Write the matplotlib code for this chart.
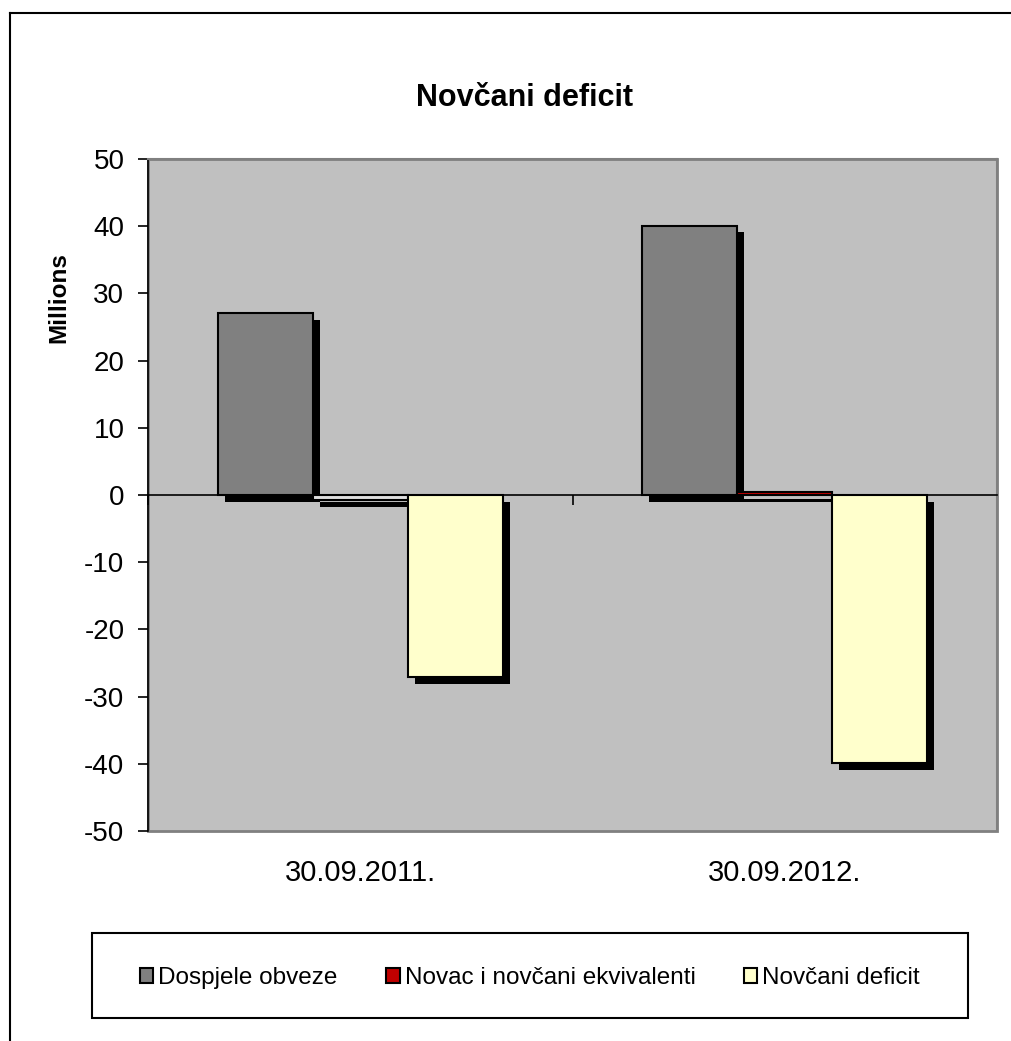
import matplotlib.pyplot as plt
import matplotlib.patheffects as pe
from matplotlib.patches import Rectangle, Patch
import numpy as np

plt.rcParams['font.family'] = ['Liberation Sans', 'DejaVu Sans']
plt.rcParams['axes.unicode_minus'] = False

# data (millions)
categories = ['30.09.2011.', '30.09.2012.']
series_names = ['Dospjele obveze', 'Novac i novčani ekvivalenti', 'Novčani deficit']
dospjele = [27.1, 40.1]
novac = [-0.7, 0.5]
deficit = [-27.1, -39.9]
colors = ['#808080', '#C00000', '#FFFFCC']

W, H = 1011, 1041
fig = plt.figure(figsize=(W / 100, H / 100), dpi=100)

# outer chart border (right and bottom are cut off in the original)
fig.add_artist(plt.Line2D([10 / W, 10 / W], [0, 1 - 13 / H], color='black', lw=1.5,
                          transform=fig.transFigure))
fig.add_artist(plt.Line2D([10 / W, 1], [1 - 13 / H, 1 - 13 / H], color='black', lw=1.5,
                          transform=fig.transFigure))

ax = fig.add_axes([148 / W, 1 - 831 / H, 849 / W, 672 / H])
ax.set_facecolor('#C0C0C0')

x = np.arange(len(categories))
w = 0.224
shadow = [pe.withSimplePatchShadow(offset=(5, -5), shadow_rgbFace='black', alpha=1.0)]
for i, (vals, c) in enumerate(zip([dospjele, novac, deficit], colors)):
    bars = ax.bar(x + (i - 1) * w, vals, width=w, color=c, edgecolor='black', linewidth=1.5,
                  path_effects=shadow, zorder=3)
    if i == 1:
        # "invert if negative" - negative cash bar drawn without its colour
        for b, v in zip(bars, vals):
            if v < 0:
                b.set_facecolor('#E0E0E0')

ax.set_xlim(-0.5, 1.5)
ax.set_ylim(-50, 50)
ax.set_yticks(range(-50, 51, 10))
ax.tick_params(axis='y', direction='out', length=7, width=1.2, labelsize=20, pad=10)

# category axis sits on zero
ax.spines['bottom'].set_position(('data', 0))
ax.spines['bottom'].set_linewidth(1.2)
ax.spines['bottom'].set_zorder(4)
ax.set_xticks([-0.5, 0.5, 1.5])
ax.set_xticklabels([])
ax.tick_params(axis='x', direction='out', length=7, width=1.2)
for xi, lab in zip(x, categories):
    ax.text(xi, -0.063, lab, transform=ax.get_xaxis_transform(), ha='center', va='center',
            fontsize=21)

ax.spines['left'].set_linewidth(1.2)
for s in ['top', 'right']:
    ax.spines[s].set_color('#808080')
    ax.spines[s].set_linewidth(1.5)
ax.add_patch(Rectangle((0, 0), 1, 1, transform=ax.transAxes, fill=False,
                       edgecolor='#808080', lw=2, zorder=0, clip_on=False))

fig.text(525 / W, 1 - 98 / H, 'Novčani deficit', ha='center', va='center',
         fontsize=22, fontweight='bold')
fig.text(59 / W, 1 - 298 / H, 'Millions', ha='center', va='center', rotation=90,
         fontsize=17.5, fontweight='bold')

# legend
fig.add_artist(Rectangle((92 / W, 1 - 1018 / H), 876 / W, 85 / H, transform=fig.transFigure,
                         fill=False, edgecolor='black', lw=1.5))
handles = [Patch(facecolor=c, edgecolor='black', lw=1.5) for c in colors]
fig.legend(handles, series_names, loc='center', bbox_to_anchor=(530 / W, 1 - 978 / H),
           ncol=3, frameon=False, fontsize=17.5, handlelength=0.55, handleheight=0.55,
           handletextpad=0.2, columnspacing=2.0)

fig.savefig('out.png', dpi=100)
